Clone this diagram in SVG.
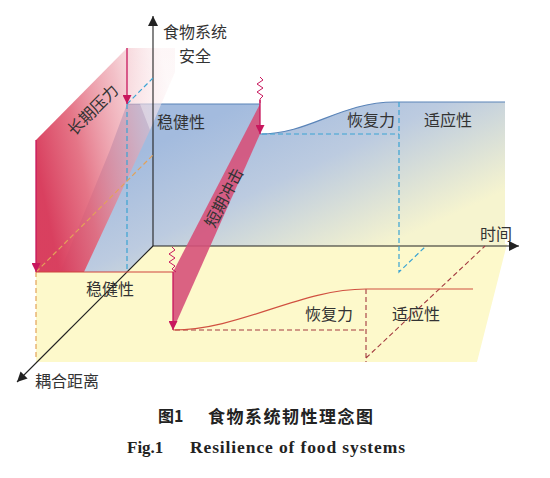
<svg xmlns="http://www.w3.org/2000/svg" width="550" height="478" viewBox="0 0 550 478">
<defs>
<linearGradient id="gBlue" gradientUnits="userSpaceOnUse" x1="250" y1="100" x2="330" y2="272">
<stop offset="0" stop-color="#a3bbde"/>
<stop offset="0.45" stop-color="#bccbe0"/>
<stop offset="1" stop-color="#f6f4cf"/>
</linearGradient>
<linearGradient id="gRed" gradientUnits="userSpaceOnUse" x1="36" y1="160" x2="178" y2="130">
<stop offset="0" stop-color="#d83c5c" stop-opacity="0.98"/>
<stop offset="0.3" stop-color="#e2667a" stop-opacity="0.9"/>
<stop offset="0.65" stop-color="#eb9aa6" stop-opacity="0.62"/>
<stop offset="1" stop-color="#f8dde0" stop-opacity="0.25"/>
</linearGradient>
<linearGradient id="gRedTop" gradientUnits="userSpaceOnUse" x1="150" y1="48" x2="150" y2="104">
<stop offset="0" stop-color="#fff" stop-opacity="0"/>
<stop offset="1" stop-color="#fff" stop-opacity="0.35"/>
</linearGradient>
<marker id="mR" viewBox="0 0 10 10" refX="10" refY="5" markerWidth="9" markerHeight="9" markerUnits="userSpaceOnUse" orient="auto">
<path d="M0,0 L10,5 L0,10 z" fill="#c8175d"/>
</marker>
<marker id="mK" viewBox="0 0 10 10" refX="10" refY="5" markerWidth="10" markerHeight="10" markerUnits="userSpaceOnUse" orient="auto">
<path d="M0,0 L10,5 L0,10 z" fill="#222"/>
</marker>
<style>
.t{font-family:"Noto Sans CJK SC","Noto Sans",sans-serif;font-size:16px;fill:#333;}
.dB{stroke:#3aa3d3;stroke-width:1.2;stroke-dasharray:5,3;fill:none;}
.dO{stroke:#e3a259;stroke-width:1.2;stroke-dasharray:5,3;fill:none;}
.dR{stroke:#a33a40;stroke-width:1.1;stroke-dasharray:5,3;fill:none;}
.ar{stroke:#c8175d;stroke-width:1.3;fill:none;marker-end:url(#mR);}
.zz{stroke:#c8175d;stroke-width:1;fill:none;}
.ax{stroke:#222;stroke-width:1.1;fill:none;marker-end:url(#mK);}
</style>
</defs>
<rect width="550" height="478" fill="#fff"/>

<g id="floor">
<polygon points="36,272 127,272 153,246 507,244 477,362 36,362" fill="#fdf9cb"/>
</g>
<g id="back-plane">
<path d="M127,104 L260,104 L260,134 C310,134 340,102 395,102 L505,102 L505,246 L153,246 L127,272 L60,272 L110,150 Z" fill="url(#gBlue)"/>
<path d="M127,104 L260,104 M260,134 C310,134 340,102 395,102 L505,102" stroke="#5a84b8" stroke-width="1.2" fill="none"/>
</g>
<g id="long-term-pressure">
<polygon points="36,140 127,48 175,48 175,72 150,130 84,272 36,272" fill="url(#gRed)"/>
<polygon points="127,48 175,48 175,72 150,130 140,104 127,104" fill="url(#gRedTop)"/>
<text class="t" transform="translate(92,109) rotate(-45)" text-anchor="middle" dominant-baseline="central">长期压力</text>
</g>
<g id="connectors">
<line class="ax" x1="153" y1="246" x2="153" y2="16"/>
<line class="ax" x1="153" y1="246" x2="519" y2="246"/>
<line class="ax" x1="153" y1="246" x2="17" y2="382"/>
<path class="dB" d="M127,104 L153,78 M127,104 L127,272 M262,134 L399,134 M399,102 L399,272 L426,246"/>
<path class="dO" d="M36,272 L153,155 M36,272 L36,360"/>
<path class="dR" d="M175,330 L366,330 M366,289 L366,362 M366,358 L485,246"/>
<line x1="36" y1="272" x2="173" y2="272" stroke="#d0453f" stroke-width="1.2"/>
<path d="M173,330 C240,330 300,289 366,289 L473,289" stroke="#d05040" stroke-width="1.2" fill="none"/>
<line class="ar" x1="127" y1="48" x2="127" y2="104"/>
<line class="ar" x1="36" y1="140" x2="36" y2="272"/>
</g>
<g id="short-term-shock">
<polygon points="260,104 260,134 173,330 173,272" fill="#d6517a" fill-opacity="0.9"/>
<text class="t" transform="translate(223,197) rotate(-62.6)" text-anchor="middle" dominant-baseline="central">短期冲击</text>
<polyline class="zz" points="260,77 263,80 257,84 263,88 257,92 263,96 260,99 260,103"/>
<polyline class="zz" points="172,247 175,250 169,254 175,258 169,262 175,266 172,269 176,272"/>
<line class="ar" x1="260" y1="100" x2="260" y2="134"/>
<line class="ar" x1="173" y1="272" x2="173" y2="330"/>
</g>
<g id="labels">
<text class="t" x="195" y="31" text-anchor="middle" dominant-baseline="central">食物系统</text>
<text class="t" x="195" y="55" text-anchor="middle" dominant-baseline="central">安全</text>
<text class="t" x="181" y="121" text-anchor="middle" dominant-baseline="central">稳健性</text>
<text class="t" x="371" y="119" text-anchor="middle" dominant-baseline="central">恢复力</text>
<text class="t" x="448" y="119" text-anchor="middle" dominant-baseline="central">适应性</text>
<text class="t" x="496" y="233" text-anchor="middle" dominant-baseline="central">时间</text>
<text class="t" x="110" y="288" text-anchor="middle" dominant-baseline="central">稳健性</text>
<text class="t" x="329" y="313" text-anchor="middle" dominant-baseline="central">恢复力</text>
<text class="t" x="416" y="313" text-anchor="middle" dominant-baseline="central">适应性</text>
<text class="t" x="67" y="380" text-anchor="middle" dominant-baseline="central">耦合距离</text>
</g>
<g id="caption">
<text x="158" y="415" dominant-baseline="central" style="font-family:'Noto Sans CJK SC',sans-serif;font-size:16px;font-weight:bold;fill:#222">图1</text>
<text x="208" y="415" dominant-baseline="central" textLength="165" style="font-family:'Noto Sans CJK SC',sans-serif;font-size:17px;font-weight:bold;fill:#222">食物系统韧性理念图</text>
<text x="127" y="447" dominant-baseline="central" style="font-family:'Liberation Serif',serif;font-size:17px;font-weight:bold;fill:#222">Fig.1</text>
<text x="190" y="447" dominant-baseline="central" textLength="215" style="font-family:'Liberation Serif',serif;font-size:17.5px;font-weight:bold;fill:#222">Resilience of food systems</text>
</g>
</svg>
